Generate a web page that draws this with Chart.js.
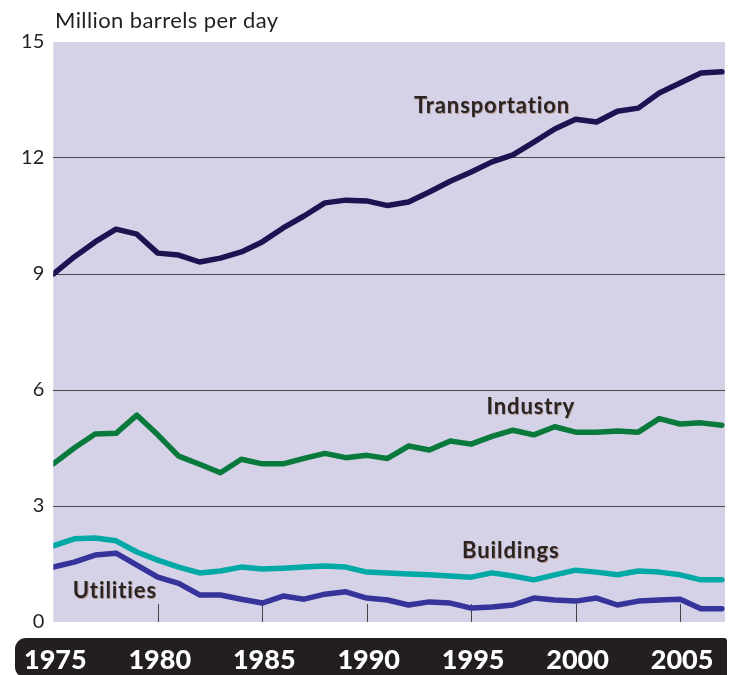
<!DOCTYPE html>
<html>
<head>
<meta charset="utf-8">
<script src="https://cdn.jsdelivr.net/npm/chart.js@4/dist/chart.umd.min.js"></script>
<style>
  html, body { margin: 0; padding: 0; background: #ffffff; }
  #wrap { width: 741px; height: 675px; position: relative; }
</style>
</head>
<body>
<div id="wrap"><canvas id="c" width="741" height="675"></canvas></div>
<script>
const years = [1975,1976,1977,1978,1979,1980,1981,1982,1983,1984,1985,1986,1987,1988,1989,1990,1991,1992,1993,1994,1995,1996,1997,1998,1999,2000,2001,2002,2003,2004,2005,2006,2007];
const transportation = [9.0,9.44,9.83,10.16,10.03,9.54,9.49,9.31,9.41,9.57,9.83,10.19,10.5,10.84,10.91,10.89,10.77,10.86,11.12,11.4,11.64,11.9,12.08,12.41,12.75,13.0,12.93,13.21,13.29,13.68,13.94,14.2,14.23];
const industry = [4.09,4.5,4.86,4.88,5.35,4.84,4.29,4.08,3.86,4.21,4.09,4.09,4.23,4.36,4.25,4.31,4.23,4.55,4.45,4.68,4.6,4.8,4.96,4.84,5.05,4.91,4.91,4.94,4.91,5.26,5.12,5.15,5.09];
const buildings = [1.97,2.15,2.17,2.1,1.81,1.6,1.42,1.27,1.32,1.42,1.37,1.39,1.42,1.45,1.42,1.29,1.27,1.24,1.22,1.19,1.16,1.27,1.19,1.09,1.22,1.34,1.29,1.22,1.32,1.29,1.22,1.09,1.09];
const utilities = [1.42,1.55,1.73,1.78,1.47,1.16,1.0,0.7,0.7,0.59,0.49,0.67,0.59,0.72,0.78,0.62,0.57,0.44,0.52,0.49,0.36,0.39,0.44,0.62,0.57,0.54,0.62,0.44,0.54,0.57,0.59,0.34,0.34];
const xTickYears = [1975,1980,1985,1990,1995,2000,2005];
const yTickValues = [0,3,6,9,12,15];
const seriesNames = ['Transportation','Industry','Buildings','Utilities'];
const yAxisTitle = 'Million barrels per day';

const toPts = arr => arr.map((v, i) => ({ x: years[i], y: v }));

// label anchors (in data units) for the in-chart series labels
const seriesLabelAnchors = [
  { text: seriesNames[0], x: 1996.0, y: 13.34 },
  { text: seriesNames[1], x: 1997.85, y: 5.56 },
  { text: seriesNames[2], x: 1996.9, y: 1.84 },
  { text: seriesNames[3], x: 1977.95, y: 0.80 }
];

const decor = {
  id: 'decor',
  beforeDraw(chart) {
    const ctx = chart.ctx, a = chart.chartArea;
    ctx.save();
    ctx.fillStyle = '#d5d2e8';
    ctx.fillRect(a.left, a.top, a.right - a.left, a.bottom - a.top);
    ctx.fillStyle = '#231f20';
    ctx.beginPath();
    ctx.roundRect(15, 638, 712, 40, [11, 3, 3, 11]);
    ctx.fill();
    ctx.fillStyle = '#231f20';
    ctx.font = '22px Lato, "Open Sans", sans-serif';
    ctx.letterSpacing = '0.4px';
    ctx.textBaseline = 'middle';
    ctx.textAlign = 'left';
    ctx.fillText(yAxisTitle, 55, 21);
    ctx.restore();
  },
  beforeDatasetsDraw(chart) {
    const ctx = chart.ctx, a = chart.chartArea, xs = chart.scales.x;
    ctx.save();
    ctx.strokeStyle = '#444444';
    ctx.lineWidth = 1;
    xTickYears.forEach(yr => {
      if (yr === 1975) return;
      const px = Math.round(xs.getPixelForValue(yr)) + 0.5;
      ctx.beginPath();
      ctx.moveTo(px, a.bottom);
      ctx.lineTo(px, a.bottom - 18);
      ctx.stroke();
    });
    ctx.restore();
  },
  afterDatasetsDraw(chart) {
    const ctx = chart.ctx, xs = chart.scales.x, ys = chart.scales.y;
    ctx.save();
    ctx.font = 'bold 22px Lato, "Open Sans", sans-serif';
    ctx.letterSpacing = '0.9px';
    ctx.textAlign = 'center';
    ctx.textBaseline = 'middle';
    seriesLabelAnchors.forEach(l => {
      ctx.fillStyle = 'rgba(140,80,30,0.45)';
      ctx.fillText(l.text, xs.getPixelForValue(l.x) + 0.8, ys.getPixelForValue(l.y) + 0.8);
      ctx.fillStyle = '#2a2424';
      ctx.fillText(l.text, xs.getPixelForValue(l.x), ys.getPixelForValue(l.y));
    });
    ctx.restore();
  }
};

const common = { pointRadius: 0, borderWidth: 5.5, tension: 0, fill: false, borderJoinStyle: 'round', borderCapStyle: 'round' };

new Chart(document.getElementById('c'), {
  type: 'line',
  data: {
    datasets: [
      Object.assign({ label: seriesNames[0], data: toPts(transportation), borderColor: '#1b1352' }, common),
      Object.assign({ label: seriesNames[1], data: toPts(industry), borderColor: '#0a7a3c' }, common),
      Object.assign({ label: seriesNames[2], data: toPts(buildings), borderColor: '#00a9a6' }, common),
      Object.assign({ label: seriesNames[3], data: toPts(utilities), borderColor: '#34349b' }, common)
    ]
  },
  options: {
    responsive: false,
    animation: false,
    layout: { padding: { top: 42, right: 16, left: 0, bottom: 0 } },
    plugins: { legend: { display: false }, tooltip: { enabled: false }, title: { display: false } },
    scales: {
      x: {
        type: 'linear',
        min: 1975,
        max: 2007.15,
        afterBuildTicks: s => { s.ticks = xTickYears.map(v => ({ value: v })); },
        afterFit: s => { s.height = 53; },
        border: { display: false },
        grid: { display: false, drawTicks: false },
        ticks: {
          color: '#ffffff',
          padding: 22,
          maxRotation: 0,
          autoSkip: false,
          font: { family: 'Lato, "Open Sans", sans-serif', size: 27, weight: 900 },
          callback: v => String(v),
          labelOffset: 2
        }
      },
      y: {
        min: 0,
        max: 15,
        afterBuildTicks: s => { s.ticks = yTickValues.map(v => ({ value: v })); },
        afterFit: s => { s.width = 49; },
        border: { display: false },
        grid: {
          drawTicks: false,
          lineWidth: 1,
          color: c => (c.tick && (c.tick.value === 0 || c.tick.value === 15)) ? 'rgba(0,0,0,0)' : '#4a4a4a'
        },
        ticks: {
          color: '#231f20',
          padding: 9,
          font: { family: 'Lato, "Open Sans", sans-serif', size: 20 },
          callback: v => String(v)
        }
      }
    }
  },
  plugins: [decor]
});
</script>
</body>
</html>
